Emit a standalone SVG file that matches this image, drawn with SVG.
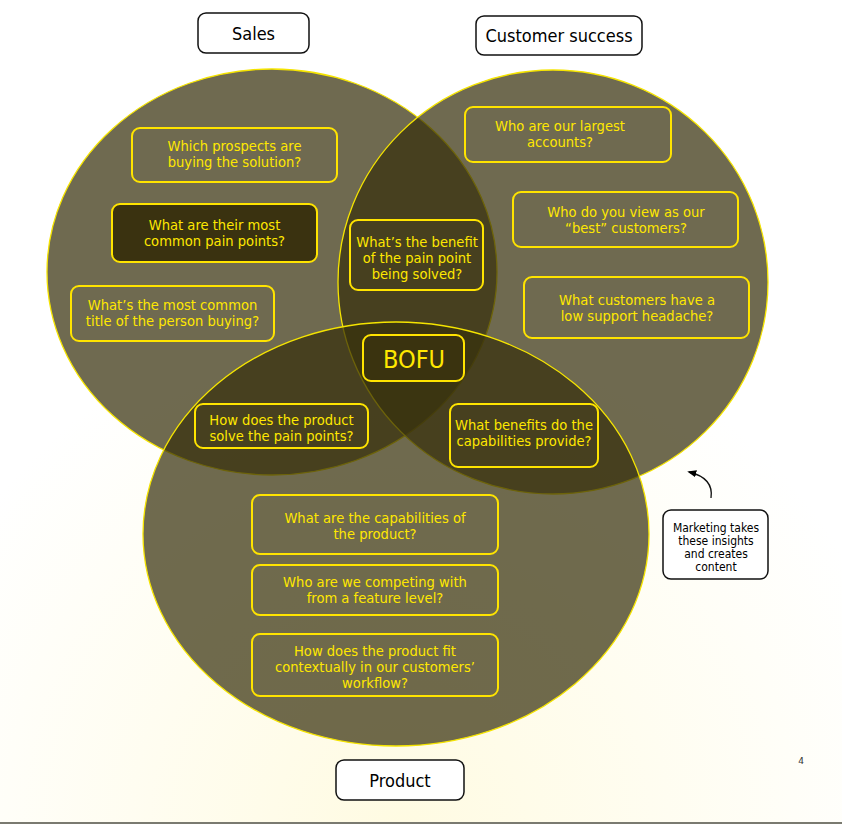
<svg xmlns="http://www.w3.org/2000/svg" width="842" height="824" viewBox="0 0 842 824">
<style>
.ven{fill:#38300c;fill-opacity:0.72;stroke:#f5e400;stroke-width:1.3}
.q{fill:none;stroke:#ffe400;stroke-width:2}
.qt{font-family:"DejaVu Sans Condensed","DejaVu Sans",Verdana,sans-serif;font-stretch:condensed;font-size:14.6px;fill:#ffe800;text-anchor:middle}
.lab{fill:#ffffff;stroke:#111;stroke-width:1.5}
.lt{font-family:"DejaVu Sans Condensed","DejaVu Sans",Verdana,sans-serif;font-stretch:condensed;font-size:18px;fill:#000;text-anchor:middle}
.mt{font-family:"DejaVu Sans Condensed","DejaVu Sans",Verdana,sans-serif;font-stretch:condensed;font-size:12px;fill:#000;text-anchor:middle}
</style>
<defs>
<radialGradient id="bg" cx="400" cy="824" r="520" gradientUnits="userSpaceOnUse">
<stop offset="0" stop-color="#fffbe2"/>
<stop offset="1" stop-color="#ffffff"/>
</radialGradient>
<marker id="ah" viewBox="0 0 10 10" refX="8" refY="5" markerWidth="7" markerHeight="7" orient="auto">
<path d="M0,1 L10,5 L0,9 z" fill="#000"/>
</marker>
</defs>
<rect width="842" height="824" fill="url(#bg)"/>
<rect x="0" y="822" width="842" height="2" fill="#7a7a70"/>

<g id="circles">
<ellipse id="sales-circle" class="ven" cx="272" cy="272" rx="225" ry="203"/>
<ellipse id="cs-circle" class="ven" cx="553" cy="282" rx="215" ry="212"/>
<ellipse id="product-circle" class="ven" cx="396" cy="534" rx="253" ry="212"/>
</g>

<g id="label-sales"><rect class="lab" x="198" y="13" width="111" height="40" rx="8"/><text class="lt" x="253.5" y="40">Sales</text></g>
<g id="label-cs"><rect class="lab" x="476" y="16" width="166" height="39" rx="8"/><text class="lt" x="559" y="42">Customer success</text></g>
<g id="label-product"><rect class="lab" x="336" y="760" width="128" height="40" rx="8"/><text class="lt" x="400" y="787">Product</text></g>

<g id="q1"><rect class="q" x="132" y="128" width="205" height="54" rx="8"/><text class="qt" x="234.5" y="151">Which prospects are</text><text class="qt" x="234.5" y="167">buying the solution?</text></g>
<g id="q2"><rect class="q" x="112" y="204" width="205" height="58" rx="8" style="fill:#3a3210"/><text class="qt" x="214.5" y="230">What are their most</text><text class="qt" x="214.5" y="246">common pain points?</text></g>
<g id="q3"><rect class="q" x="71" y="286" width="203" height="55" rx="8"/><text class="qt" x="172.5" y="310">What’s the most common</text><text class="qt" x="172.5" y="326">title of the person buying?</text></g>
<g id="q4"><rect class="q" x="350" y="220" width="133" height="70" rx="8"/><text class="qt" x="417" y="247">What’s the benefit</text><text class="qt" x="417" y="263">of the pain point</text><text class="qt" x="417" y="279">being solved?</text></g>
<g id="q5"><rect class="q" x="465" y="107" width="206" height="55" rx="8"/><text class="qt" x="560" y="131">Who are our largest</text><text class="qt" x="560" y="147">accounts?</text></g>
<g id="q6"><rect class="q" x="513" y="192" width="225" height="55" rx="8"/><text class="qt" x="626" y="217">Who do you view as our</text><text class="qt" x="626" y="233">“best” customers?</text></g>
<g id="q7"><rect class="q" x="524" y="277" width="225" height="61" rx="8"/><text class="qt" x="637" y="305">What customers have a</text><text class="qt" x="637" y="321">low support headache?</text></g>
<g id="bofu"><rect class="q" x="363" y="335" width="101" height="46" rx="8" style="fill:#38300c;fill-opacity:0.3"/><text x="414" y="368" style="font-family:'DejaVu Sans Condensed','DejaVu Sans',Verdana,sans-serif;font-stretch:condensed;font-size:25px;fill:#ffe800;text-anchor:middle">BOFU</text></g>
<g id="q8"><rect class="q" x="195" y="404" width="173" height="44" rx="8"/><text class="qt" x="281.5" y="425">How does the product</text><text class="qt" x="281.5" y="441">solve the pain points?</text></g>
<g id="q9"><rect class="q" x="450" y="404" width="148" height="63" rx="8"/><text class="qt" x="524" y="430">What benefits do the</text><text class="qt" x="524" y="446">capabilities provide?</text></g>
<g id="q10"><rect class="q" x="252" y="495" width="246" height="59" rx="8"/><text class="qt" x="375" y="523">What are the capabilities of</text><text class="qt" x="375" y="539">the product?</text></g>
<g id="q11"><rect class="q" x="252" y="565" width="246" height="50" rx="8"/><text class="qt" x="375" y="587">Who are we competing with</text><text class="qt" x="375" y="603">from a feature level?</text></g>
<g id="q12"><rect class="q" x="252" y="634" width="246" height="62" rx="8"/><text class="qt" x="375" y="656">How does the product fit</text><text class="qt" x="375" y="672">contextually in our customers’</text><text class="qt" x="375" y="688">workflow?</text></g>

<g id="marketing"><rect class="lab" x="663" y="510" width="105" height="69" rx="8"/><text class="mt" x="716" y="532">Marketing takes</text><text class="mt" x="716" y="545">these insights</text><text class="mt" x="716" y="558">and creates</text><text class="mt" x="716" y="571">content</text></g>

<g id="connectors"><path d="M711,498 Q714,478 689,472" fill="none" stroke="#111" stroke-width="1.3" marker-end="url(#ah)"/></g>

<text x="801" y="764" style="font-family:'DejaVu Sans',sans-serif;font-size:9px;fill:#333;text-anchor:middle">4</text>
</svg>
